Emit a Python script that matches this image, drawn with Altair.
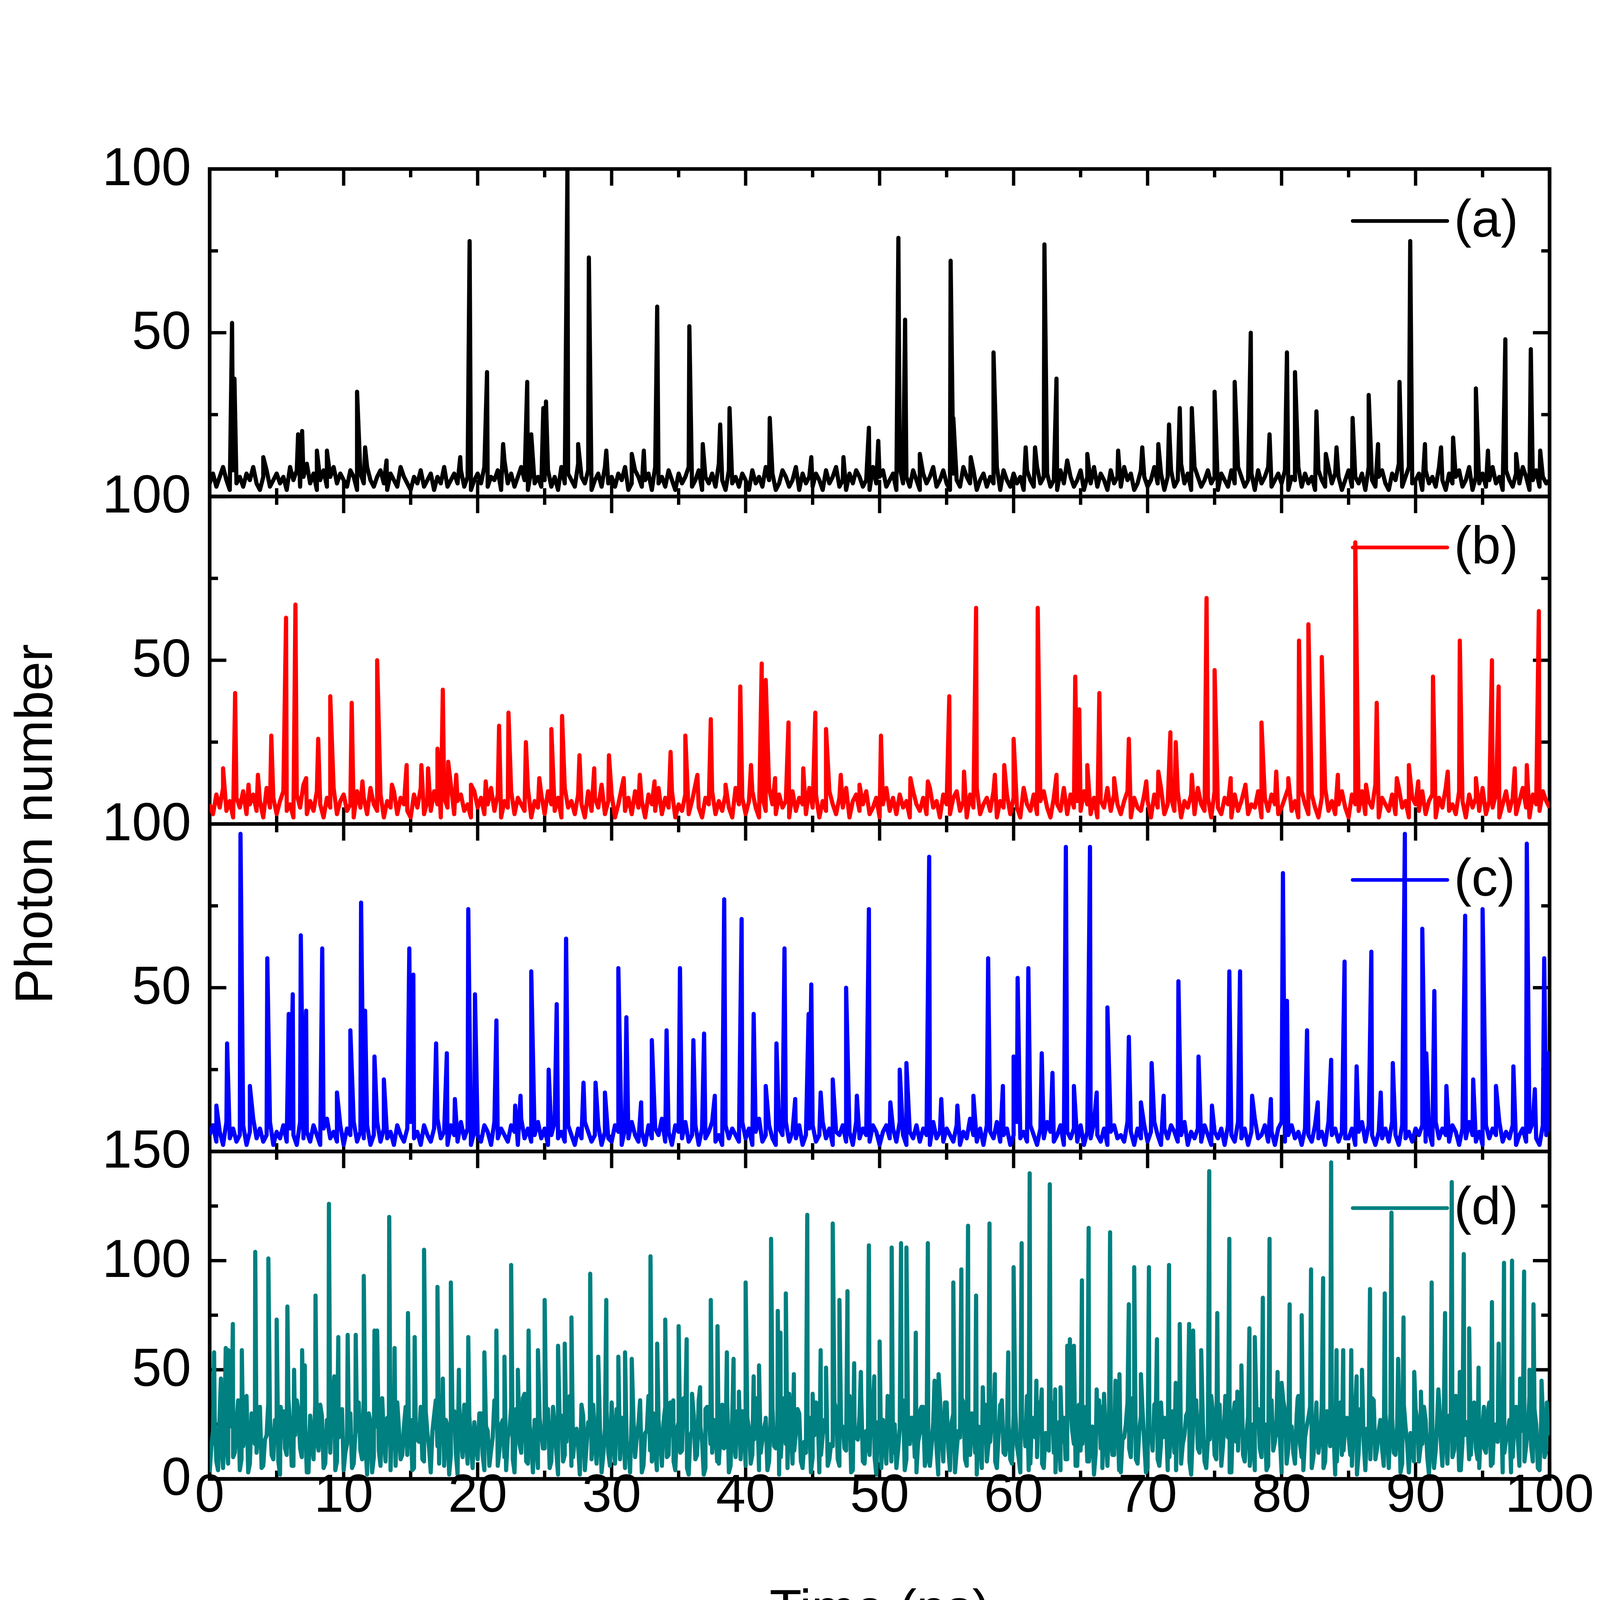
import altair as alt
import pandas as pd

FONT = "Liberation Sans"
DT = 0.25  # sampling step of the background traces (ns)

# ---------------- background noise (value every 0.25 ns, 0..100 ns) ----------------
BG_A = [
    4, 7, 3, 6, 9, 5, 2, 8, 4, 6, 3, 7, 5, 9, 4, 2, 6, 8, 3, 5,
    7, 4, 6, 2, 9, 5, 8, 3, 6, 10, 4, 7, 2, 5, 8, 3, 6, 9, 4, 7,
    5, 3, 8, 6, 2, 7, 4, 9, 5, 3, 6, 8, 4, 2, 7, 5, 3, 9, 6, 4,
    2, 6, 4, 8, 3, 5, 7, 2, 6, 4, 9, 3, 5, 7, 4, 8, 3, 6, 2, 5,
    7, 4, 9, 3, 6, 5, 8, 2, 11, 4, 7, 3, 6, 9, 5, 2, 8, 4, 6, 3,
    5, 8, 3, 6, 2, 9, 4, 7, 5, 3, 10, 6, 4, 8, 2, 5, 7, 3, 9, 4,
    6, 3, 7, 5, 9, 2, 4, 8, 6, 3, 5, 7, 2, 9, 4, 6, 3, 8, 5, 2,
    7, 4, 6, 9, 3, 5, 8, 2, 6, 4, 7, 3, 10, 5, 2, 8, 4, 6, 3, 7,
    5, 2, 8, 4, 6, 3, 9, 5, 7, 2, 4, 8, 6, 3, 5, 9, 2, 7, 4, 6,
    3, 7, 5, 2, 8, 4, 6, 9, 3, 5, 2, 7, 4, 8, 6, 3, 5, 2, 9, 4,
    6, 8, 3, 5, 7, 2, 9, 4, 6, 3, 8, 5, 2, 7, 4, 6, 9, 3, 5, 8,
    4, 2, 7, 5, 3, 9, 6, 4, 8, 2, 5, 7, 3, 6, 4, 9, 2, 8, 5, 3,
    7, 4, 6, 2, 8, 5, 3, 9, 4, 6, 7, 3, 5, 2, 8, 4, 11, 6, 3, 5,
    8, 2, 6, 4, 9, 3, 7, 5, 2, 8, 4, 6, 3, 9, 5, 7, 2, 4, 8, 6,
    3, 5, 9, 4, 7, 2, 6, 8, 3, 5, 10, 4, 7, 2, 9, 6, 3, 5, 8, 4,
    6, 2, 7, 5, 3, 8, 4, 9, 6, 3, 5, 7, 2, 8, 4, 6, 9, 3, 5, 7,
    4, 8, 2, 6, 5, 9, 3, 7, 4, 6, 2, 8, 5, 3, 9, 4, 7, 6, 2, 5,
    8, 3, 6, 4, 7, 2, 9, 5, 3, 6, 8, 4, 2, 7, 5, 10, 3, 6, 9, 4,
    5, 7, 2, 8, 4, 6, 3, 9, 5, 2, 7, 4, 6, 8, 3, 5, 9, 2, 6, 4,
    7, 3, 5, 9, 4, 6, 2, 8, 5, 3, 7, 4, 9, 6, 2, 5, 8, 3, 6, 4,
    5,
]
BG_B = [
    6, 3, 9, 5, 11, 4, 7, 2, 8, 5, 10, 3, 6, 9, 4, 7, 2, 11, 5, 8,
    3, 7, 10, 4, 6, 2, 9, 5, 12, 3, 7, 4, 10, 6, 2, 8, 5, 11, 3, 7,
    9, 4, 6, 2, 10, 5, 8, 3, 11, 6, 4, 9, 2, 7, 5, 10, 3, 8, 6, 4,
    2, 9, 5, 11, 3, 7, 4, 10, 6, 2, 8, 5, 12, 3, 7, 9, 4, 6, 2, 10,
    5, 8, 3, 6, 11, 4, 9, 2, 7, 5, 10, 3, 8, 6, 4, 11, 2, 7, 5, 9,
    3, 10, 6, 4, 8, 2, 11, 5, 7, 3, 9, 6, 2, 10, 4, 8, 5, 12, 3, 7,
    9, 2, 6, 11, 4, 8, 3, 10, 5, 7, 2, 9, 6, 4, 11, 3, 8, 5, 10, 2,
    6, 4, 9, 3, 7, 12, 5, 2, 8, 6, 10, 3, 7, 4, 9, 5, 2, 11, 6, 8,
    3, 7, 10, 5, 2, 8, 4, 11, 6, 3, 9, 5, 7, 2, 10, 4, 8, 6, 3, 11,
    5, 9, 2, 7, 4, 10, 6, 3, 8, 5, 11, 2, 7, 9, 4, 6, 10, 3, 5, 8,
    2, 6, 11, 4, 8, 3, 9, 5, 7, 2, 10, 6, 4, 8, 3, 11, 5, 7, 2, 9,
    6, 3, 8, 10, 4, 7, 2, 9, 5, 11, 3, 6, 8, 4, 10, 2, 7, 5, 9, 3,
    8, 5, 2, 11, 6, 4, 9, 3, 7, 10, 5, 2, 8, 6, 4, 11, 3, 9, 5, 7,
    4, 10, 6, 3, 8, 2, 7, 5, 11, 4, 9, 6, 3, 7, 10, 2, 8, 5, 4, 9,
    7, 2, 9, 5, 11, 3, 6, 8, 4, 10, 2, 7, 5, 9, 3, 11, 6, 4, 8, 2,
    10, 5, 3, 8, 6, 2, 9, 4, 7, 11, 3, 6, 5, 10, 2, 8, 4, 9, 6, 3,
    5, 8, 11, 4, 7, 2, 10, 6, 3, 9, 5, 2, 8, 11, 4, 7, 3, 6, 10, 5,
    2, 9, 6, 4, 10, 3, 7, 5, 12, 2, 8, 6, 4, 9, 3, 11, 5, 7, 2, 8,
    6, 4, 10, 3, 7, 9, 2, 8, 5, 11, 4, 6, 3, 10, 7, 2, 9, 5, 8, 4,
    11, 3, 7, 5, 9, 2, 6, 10, 4, 8, 3, 7, 11, 5, 2, 9, 6, 4, 10, 7,
    5,
]
BG_C = [
    5, 8, 3, 6, 2, 9, 4, 7, 3, 5, 8, 2, 6, 10, 4, 7, 3, 5, 9, 2,
    6, 4, 8, 3, 7, 5, 2, 9, 4, 6, 3, 8, 5, 2, 7, 10, 4, 6, 3, 8,
    2, 7, 5, 9, 3, 6, 4, 8, 2, 5, 9, 3, 7, 4, 6, 2, 8, 5, 3, 7,
    9, 4, 6, 2, 8, 5, 3, 7, 10, 4, 6, 2, 8, 5, 3, 9, 4, 7, 2, 6,
    5, 3, 8, 6, 2, 9, 4, 7, 5, 3, 8, 6, 2, 10, 4, 7, 3, 5, 9, 4,
    7, 2, 5, 9, 4, 6, 3, 8, 5, 2, 7, 4, 9, 6, 3, 5, 8, 2, 6, 4,
    3, 8, 6, 2, 7, 4, 9, 5, 3, 6, 2, 8, 4, 7, 5, 10, 3, 6, 2, 8,
    6, 4, 9, 3, 5, 8, 2, 7, 4, 6, 9, 3, 5, 2, 8, 4, 7, 5, 3, 9,
    4, 7, 2, 6, 10, 3, 5, 8, 4, 2, 7, 5, 9, 3, 6, 4, 8, 2, 5, 7,
    8, 3, 5, 9, 4, 7, 2, 6, 5, 8, 3, 6, 2, 9, 4, 7, 5, 3, 8, 6,
    2, 6, 8, 4, 7, 3, 9, 5, 2, 6, 4, 8, 3, 7, 5, 2, 9, 4, 6, 3,
    7, 5, 3, 8, 2, 6, 4, 10, 5, 3, 7, 2, 8, 6, 4, 9, 3, 5, 7, 2,
    5, 9, 4, 6, 3, 8, 5, 2, 7, 4, 9, 6, 3, 5, 8, 2, 6, 4, 7, 3,
    8, 2, 6, 4, 9, 5, 3, 7, 2, 6, 8, 4, 5, 3, 9, 6, 2, 7, 4, 8,
    3, 6, 9, 5, 2, 7, 4, 8, 6, 3, 5, 9, 2, 6, 4, 7, 3, 8, 5, 2,
    6, 4, 7, 2, 8, 5, 3, 9, 4, 7, 2, 6, 10, 4, 5, 8, 3, 6, 2, 7,
    9, 3, 5, 8, 4, 6, 2, 7, 5, 3, 8, 4, 6, 2, 9, 5, 7, 3, 6, 4,
    4, 7, 2, 6, 9, 3, 8, 5, 2, 6, 4, 7, 3, 9, 5, 2, 8, 4, 6, 3,
    7, 5, 8, 3, 6, 2, 9, 4, 7, 5, 3, 8, 6, 2, 7, 4, 9, 5, 3, 6,
    2, 8, 4, 7, 5, 9, 3, 6, 4, 8, 2, 5, 7, 3, 6, 9, 4, 2, 8, 5,
    6,
]
BG_D = [
    3, 22, 8, 30, 5, 18, 35, 10, 26, 4, 15, 38, 7, 24, 12, 33, 6, 20, 28, 9,
    17, 2, 31, 11, 25, 6, 36, 14, 21, 3, 29, 9, 19, 34, 5, 27, 12, 40, 8, 23,
    4, 16, 30, 7, 22, 13, 37, 2, 26, 10, 32, 6, 19, 28, 4, 14, 35, 9, 24, 11,
    27, 5, 18, 33, 8, 21, 3, 29, 15, 38, 6, 24, 11, 31, 2, 20, 34, 7, 16, 26,
    9, 30, 4, 22, 13, 36, 6, 25, 10, 19, 33, 3, 28, 12, 39, 7, 17, 27, 5, 21,
    14, 32, 8, 24, 2, 29, 11, 37, 6, 20, 15, 34, 4, 26, 9, 18, 31, 3, 23, 12,
    35, 7, 19, 28, 5, 16, 30, 10, 25, 3, 21, 38, 8, 14, 27, 6, 33, 11, 20, 4,
    26, 13, 32, 2, 22, 9, 36, 17, 5, 29, 12, 24, 7, 34, 15, 3, 28, 10, 19, 31,
    6, 23, 11, 37, 4, 18, 27, 8, 33, 14, 2, 25, 16, 39, 7, 21, 30, 5, 12, 28,
    10, 35, 3, 20, 26, 9, 15, 32, 6, 24, 13, 38, 4, 19, 29, 8, 22, 11, 34, 2,
    18, 27, 7, 31, 12, 5, 23, 36, 9, 16, 28, 3, 21, 33, 10, 6, 26, 14, 37, 8,
    24, 4, 30, 13, 19, 35, 6, 11, 27, 2, 22, 32, 8, 17, 25, 5, 34, 12, 20, 9,
    29, 15, 3, 26, 38, 7, 21, 10, 31, 5, 18, 36, 12, 24, 4, 28, 9, 33, 16, 6,
    13, 33, 8, 20, 2, 27, 14, 39, 6, 23, 11, 30, 3, 19, 35, 10, 25, 7, 29, 17,
    5, 22, 34, 9, 16, 28, 4, 24, 12, 37, 7, 20, 31, 2, 26, 14, 33, 8, 18, 38,
    11, 27, 6, 30, 19, 3, 35, 13, 22, 8, 29, 15, 4, 32, 10, 25, 6, 36, 17, 21,
    3, 31, 14, 24, 7, 38, 10, 19, 28, 5, 23, 12, 34, 8, 27, 16, 2, 30, 11, 25,
    20, 6, 33, 12, 26, 4, 18, 37, 9, 22, 14, 30, 5, 28, 11, 35, 7, 24, 3, 19,
    32, 8, 16, 27, 2, 23, 13, 36, 6, 21, 29, 10, 38, 4, 17, 26, 9, 31, 14, 5,
    24, 12, 35, 7, 20, 30, 3, 18, 27, 10, 33, 6, 22, 15, 38, 8, 25, 4, 29, 13,
    20,
]
# panel (d) extra background samples, at the half steps (0.125 + 0.25 i ns)
BG_D_HALF = [
    15, 28, 4, 19, 33, 7, 24, 12, 36, 9, 21, 3, 30, 16, 26, 5, 18, 35, 11, 27,
    8, 23, 14, 37, 6, 20, 31, 10, 25, 3, 17, 34, 13, 29, 7, 22, 38, 4, 19, 32,
    12, 27, 5, 21, 35, 9, 16, 30, 3, 24, 13, 37, 8, 19, 28, 6, 23, 11, 33, 15,
    4, 26, 17, 9, 31, 14, 22, 36, 7, 18, 27, 2, 25, 12, 34, 10, 20, 29, 5, 16,
    30, 11, 24, 6, 19, 35, 13, 27, 4, 22, 9, 32, 16, 37, 8, 25, 3, 18, 28, 14,
    21, 5, 33, 12, 26, 8, 17, 38, 10, 23, 2, 29, 15, 20, 34, 7, 24, 11, 31, 6,
    18, 32, 9, 25, 14, 3, 28, 19, 36, 6, 22, 13, 30, 4, 17, 26, 10, 35, 8, 23,
    12, 37, 5, 20, 29, 11, 24, 2, 33, 16, 27, 8, 21, 14, 36, 6, 19, 31, 9, 25,
    28, 7, 18, 34, 12, 23, 4, 30, 15, 21, 10, 37, 5, 26, 13, 32, 8, 17, 24, 3,
    20, 33, 11, 27, 6, 16, 35, 9, 22, 14, 29, 3, 24, 18, 38, 7, 13, 30, 10, 26,
    5, 19, 31, 8, 25, 13, 36, 4, 21, 28, 10, 17, 33, 6, 23, 15, 29, 2, 20, 35,
    14, 26, 3, 22, 37, 9, 18, 30, 12, 24, 5, 34, 16, 27, 8, 20, 36, 11, 25, 7,
    31, 10, 23, 15, 4, 28, 19, 35, 7, 21, 13, 32, 3, 26, 17, 9, 30, 22, 6, 34,
    16, 29, 8, 24, 12, 36, 5, 20, 27, 11, 33, 4, 18, 25, 14, 37, 9, 22, 31, 3,
    23, 13, 35, 6, 19, 27, 10, 31, 4, 24, 16, 29, 8, 21, 36, 12, 26, 5, 18, 30,
    9, 34, 15, 22, 3, 28, 17, 37, 11, 20, 6, 25, 32, 14, 23, 4, 30, 13, 27, 19,
    36, 7, 21, 12, 29, 16, 4, 24, 33, 10, 26, 18, 5, 31, 15, 22, 8, 35, 13, 28,
    11, 25, 2, 32, 17, 23, 9, 36, 14, 27, 6, 19, 30, 12, 24, 3, 34, 16, 21, 8,
    27, 15, 33, 10, 22, 5, 29, 18, 37, 7, 24, 13, 31, 4, 20, 26, 11, 35, 9, 23,
    14, 30, 6, 25, 17, 36, 12, 21, 3, 28, 19, 34, 8, 23, 15, 32, 5, 27, 10, 22,
]

# ---------------- spikes (time ns, photon number) ----------------
A_PEAKS = [
    (1.67, 53), (1.85, 36), (4.0, 12), (6.6, 19), (6.9, 20), (8.0, 14), (8.75, 14),
    (11.0, 32), (11.6, 15), (13.2, 11), (18.7, 12), (19.4, 78), (20.7, 38), (21.9, 16),
    (23.7, 35), (24.0, 19), (24.9, 27), (25.1, 29), (26.7, 100), (27.5, 16), (28.3, 73),
    (29.6, 14), (31.5, 13), (32.4, 14), (33.4, 58), (35.8, 52), (36.8, 16), (38.1, 22),
    (38.8, 27), (41.8, 24), (44.9, 12), (47.3, 12), (49.2, 21), (49.9, 17), (51.4, 79),
    (51.9, 54), (53.0, 13), (55.3, 72), (55.5, 24), (56.8, 12), (58.5, 44), (60.9, 15),
    (61.6, 15), (62.3, 77), (63.2, 36), (65.5, 13), (67.8, 14), (69.6, 15), (70.8, 16),
    (71.6, 22), (72.4, 27), (73.3, 27), (75.0, 32), (76.5, 35), (77.7, 50), (79.1, 19),
    (80.4, 44), (81.0, 38), (82.6, 26), (83.3, 13), (84.1, 15), (85.3, 24), (86.5, 31),
    (87.2, 16), (88.8, 35), (89.6, 78), (90.7, 16), (91.9, 15), (92.8, 18), (94.5, 33),
    (95.4, 14), (96.7, 48), (97.5, 13), (98.6, 45), (99.3, 14),
]
B_PEAKS = [
    (1.0, 17), (1.9, 40), (2.9, 12), (3.6, 15), (4.6, 27), (5.7, 63), (6.4, 67), (7.2, 14),
    (8.1, 26), (9.0, 39), (10.6, 37), (11.4, 13), (12.5, 50), (13.6, 12), (14.7, 18),
    (15.8, 18), (16.3, 17), (17.0, 23), (17.4, 41), (17.8, 19), (18.4, 15), (19.5, 12),
    (20.6, 13), (21.6, 30), (22.3, 34), (23.6, 25), (24.6, 14), (25.5, 29), (26.3, 33),
    (27.6, 21), (28.7, 17), (29.8, 21), (30.9, 14), (32.1, 15), (33.2, 13), (34.4, 22),
    (35.5, 27), (36.4, 15), (37.4, 32), (38.5, 12), (39.6, 42), (40.4, 18), (41.2, 49),
    (41.5, 44), (42.2, 14), (43.2, 31), (44.3, 17), (45.2, 34), (46.0, 29), (47.1, 15),
    (48.5, 12), (50.1, 27), (52.3, 14), (53.6, 13), (55.2, 39), (56.3, 16), (57.2, 66),
    (58.6, 15), (59.3, 18), (60.0, 26), (61.8, 66), (63.2, 15), (64.6, 45), (64.9, 35),
    (65.5, 18), (66.4, 40), (67.5, 14), (68.6, 26), (69.9, 13), (70.8, 16), (71.7, 28),
    (72.1, 25), (73.3, 15), (74.4, 69), (75.0, 47), (76.2, 14), (77.3, 12), (78.5, 31),
    (79.6, 16), (80.5, 14), (81.3, 56), (82.0, 61), (83.0, 51), (84.2, 15), (85.5, 86),
    (86.3, 12), (87.1, 37), (88.6, 14), (89.5, 18), (90.2, 13), (91.3, 45), (92.4, 16),
    (93.3, 56), (94.5, 14), (95.7, 50), (96.2, 42), (97.4, 17), (98.3, 18), (99.2, 65),
]
C_PEAKS = [
    (0.5, 14), (1.3, 33), (2.3, 97), (3.0, 20), (4.3, 59), (5.9, 42), (6.2, 48), (6.8, 66),
    (7.2, 43), (8.4, 62), (9.5, 18), (10.5, 37), (11.3, 76), (11.6, 43), (12.3, 29),
    (13.0, 22), (14.9, 62), (15.2, 54), (16.9, 33), (17.7, 30), (18.3, 16), (19.3, 74),
    (19.8, 48), (21.4, 40), (22.8, 14), (23.2, 17), (24.0, 55), (25.3, 25), (25.9, 45),
    (26.6, 65), (27.9, 21), (28.8, 21), (29.5, 18), (30.5, 56), (31.1, 41), (32.2, 15),
    (33.0, 34), (34.1, 37), (35.1, 56), (36.1, 34), (36.9, 36), (37.7, 17), (38.4, 77),
    (39.7, 71), (40.6, 42), (41.5, 20), (42.3, 33), (42.9, 62), (43.7, 16), (44.7, 42),
    (44.9, 51), (45.6, 18), (46.5, 22), (47.5, 50), (48.3, 17), (49.2, 74), (50.8, 15),
    (51.5, 25), (52.0, 27), (53.7, 90), (54.6, 16), (55.8, 14), (57.0, 17), (58.1, 59),
    (59.2, 20), (60.0, 29), (60.3, 53), (61.1, 56), (62.1, 30), (62.9, 24), (63.9, 93),
    (64.5, 20), (65.7, 93), (66.2, 18), (67.0, 44), (68.6, 35), (69.5, 15), (70.3, 27),
    (71.2, 17), (72.3, 52), (73.8, 29), (74.8, 14), (76.1, 55), (76.9, 55), (77.8, 17),
    (79.2, 16), (80.1, 85), (80.4, 46), (81.9, 37), (82.7, 15), (83.7, 28), (84.7, 58),
    (85.6, 26), (86.7, 61), (87.4, 18), (88.3, 27), (89.2, 97), (90.5, 68), (90.8, 30),
    (91.4, 49), (92.3, 20), (93.7, 72), (94.3, 22), (95.0, 74), (96.0, 20), (97.3, 26),
    (98.3, 94), (98.9, 19), (99.6, 59), (99.9, 30),
]
D_PEAKS = [
    (0.33, 58), (0.84, 46), (1.2, 60), (1.4, 59), (1.73, 71), (2.4, 59), (2.7, 32),
    (3.4, 104), (4.38, 101), (5.0, 73), (5.3, 33), (5.8, 79), (6.3, 50), (6.9, 59),
    (7.1, 52), (7.9, 84), (8.9, 126), (9.3, 47), (9.6, 65), (10.3, 66), (10.9, 66),
    (11.5, 93), (12.3, 68), (12.5, 68), (13.4, 120), (13.8, 60), (14.8, 76), (15.3, 65),
    (16.0, 105), (17.0, 88), (17.4, 46), (18.0, 90), (18.6, 50), (19.3, 65), (20.5, 58),
    (21.4, 68), (22.0, 56), (22.5, 98), (23.0, 50), (23.8, 68), (24.5, 59), (25.0, 82),
    (26.0, 61), (26.5, 62), (27.0, 74), (28.4, 94), (29.0, 56), (29.6, 82), (30.5, 56),
    (31.0, 58), (31.5, 55), (32.9, 102), (33.4, 62), (34.0, 73), (34.6, 36), (35.0, 70),
    (35.6, 64), (36.0, 39), (36.6, 42), (37.0, 32), (37.4, 82), (37.9, 70), (38.6, 58),
    (39.1, 55), (39.5, 40), (40.0, 90), (40.6, 47), (41.0, 52), (41.5, 28), (41.9, 110),
    (42.4, 77), (42.6, 67), (43.0, 85), (43.6, 48), (44.6, 121), (45.0, 39), (45.6, 59),
    (46.0, 51), (46.5, 117), (47.0, 82), (47.6, 86), (48.1, 53), (48.6, 49), (49.2, 107),
    (49.6, 47), (50.0, 63), (50.6, 38), (50.9, 106), (51.6, 108), (52.0, 106), (52.7, 67),
    (53.0, 31), (53.6, 108), (54.1, 45), (54.4, 48), (55.0, 35), (55.5, 90), (56.1, 96),
    (56.6, 116), (57.2, 84), (57.7, 42), (58.2, 117), (58.6, 48), (59.0, 32), (59.6, 58),
    (60.0, 97), (60.6, 108), (61.2, 140), (61.7, 45), (62.1, 41), (62.7, 135), (63.1, 41),
    (63.5, 42), (64.0, 61), (64.2, 64), (64.5, 61), (65.1, 91), (65.6, 115), (66.2, 41),
    (66.6, 33), (67.2, 113), (67.6, 45), (67.9, 48), (68.6, 80), (69.0, 97), (69.5, 48),
    (70.1, 97), (70.7, 64), (71.0, 35), (71.6, 98), (72.1, 44), (72.4, 71), (73.1, 71),
    (73.4, 68), (74.0, 59), (74.6, 141), (75.2, 76), (75.8, 38), (76.1, 110), (76.7, 40),
    (77.0, 52), (77.6, 69), (78.0, 65), (78.6, 83), (79.1, 110), (79.7, 49), (80.0, 44),
    (80.6, 80), (81.2, 37), (81.5, 75), (82.2, 96), (82.6, 35), (83.1, 92), (83.7, 145),
    (84.1, 59), (84.6, 59), (85.2, 59), (85.6, 47), (86.0, 50), (86.6, 87), (87.7, 85),
    (88.2, 122), (88.7, 55), (89.1, 74), (89.9, 49), (90.4, 40), (91.2, 90), (91.7, 41),
    (92.2, 76), (92.7, 136), (93.3, 49), (93.6, 103), (94.0, 69), (94.7, 51), (95.1, 33),
    (95.7, 81), (96.2, 62), (96.6, 99), (97.2, 100), (97.8, 46), (98.1, 95), (98.5, 50),
    (98.8, 80), (99.4, 45), (99.8, 35),
]

LABELS = ["(a)", "(b)", "(c)", "(d)"]
COLORS = ["#000000", "#FF0000", "#0000FF", "#008080"]
X_MAJOR = [0, 10, 20, 30, 40, 50, 60, 70, 80, 90, 100]
X_MINOR = [5, 15, 25, 35, 45, 55, 65, 75, 85, 95]
Y_MAX = [100, 100, 100, 150]                       # full scale of each panel
Y_LABELS = [[50, 100], [50, 100], [50, 100], [0, 50, 100, 150]]
Y_MAJOR = [[0, 50, 100], [0, 50, 100], [0, 50, 100], [0, 50, 100, 150]]
Y_MINOR = [[25, 75], [25, 75], [25, 75], [25, 75, 125]]
X_TITLE = "Time (ns)"
Y_TITLE = "Photon number"

# ---------------- layout / style ----------------
PH = 983                 # height of one panel (px)
W, H = 4022, 4 * PH      # plot area
LW = 12.5                # data line width
TW = 10                  # tick width
FW = 11                  # frame width
TMAJ, TMIN = 50, 25      # tick lengths (px)
FS_LAB = 160
FS_TIT = 158
LEG_X0, LEG_LEN, LEG_GAP = 3431, 284, 20
LEG_Y = [156, PH + 153, 2 * PH + 168, 3 * PH + 170]
XLAB_DY = -28            # x tick labels: top of text box relative to plot bottom
XTIT_DY = 318            # x title: top of text box relative to plot bottom
U = 100.0 / PH           # stacked-axis units per pixel


def stack(i, v):
    """Place value v of panel i (0 = top) on the stacked axis (each panel spans 100 units)."""
    return (3 - i) * 100 + v * 100.0 / Y_MAX[i]


def make_df(i, bg, peaks, bg_half=None):
    t = [i_ * DT for i_ in range(len(bg))] + [p[0] for p in peaks]
    v = list(bg) + [p[1] for p in peaks]
    if bg_half is not None:
        t += [DT / 2 + k * DT for k in range(len(bg_half))]
        v += list(bg_half)
    df = pd.DataFrame({"t": t, "v": v})
    df = df.sort_values("t", kind="mergesort").reset_index(drop=True)
    df["y"] = [stack(i, x) for x in df["v"]]
    return df


DATA = [
    make_df(0, BG_A, A_PEAKS),
    make_df(1, BG_B, B_PEAKS),
    make_df(2, BG_C, C_PEAKS),
    make_df(3, BG_D, D_PEAKS, BG_D_HALF),
]

# y-axis label positions on the stacked axis and their texts
lab_pos, lab_txt = [], []
for i in range(4):
    for v in Y_LABELS[i]:
        lab_pos.append(stack(i, v))
        lab_txt.append(str(v))
label_expr = "{" + ",".join(f"'{p:.4f}':'{s}'" for p, s in zip(lab_pos, lab_txt)) + "}[format(datum.value, '.4f')]"

xs = alt.Scale(domain=[0, 100], nice=False, zero=False)
ys = alt.Scale(domain=[0, 400], nice=False, zero=False)
yaxis = alt.Axis(values=lab_pos, labelExpr=label_expr, ticks=False, domain=False, grid=False,
                 title=None, labelFontSize=FS_LAB, labelFont=FONT, labelColor="black",
                 labelPadding=56, labelFlush=False, labelOverlap=False, labelLimit=0)
xenc = alt.X("t:Q", scale=xs, axis=None)
yenc = alt.Y("y:Q", scale=ys, axis=yaxis, title=None)

# tick tables
xt_rows = []
for i in range(4):
    top, bot = stack(i, Y_MAX[i]), stack(i, 0)
    for vals, L in ((X_MAJOR, TMAJ), (X_MINOR, TMIN)):
        for x in vals:
            xt_rows.append({"t": x, "y": top, "y2": top - L * U})
            xt_rows.append({"t": x, "y": bot, "y2": bot + L * U})
xt_df = pd.DataFrame(xt_rows)
ymaj_df = pd.DataFrame({"y": [stack(i, v) for i in range(4) for v in Y_MAJOR[i]]})
ymin_df = pd.DataFrame({"y": [stack(i, v) for i in range(4) for v in Y_MINOR[i]]})
sep_df = pd.DataFrame({"y": [stack(i, 0) for i in range(3)]})
xlab_df = pd.DataFrame({"t": X_MAJOR, "lab": [str(v) for v in X_MAJOR]})

layers = []
layers.append(alt.Chart(xt_df).mark_rule(color="black", strokeWidth=TW).encode(
    x=xenc, y=yenc, y2="y2:Q"))
for d, L in ((ymaj_df, TMAJ), (ymin_df, TMIN)):
    layers.append(alt.Chart(d).mark_rule(color="black", strokeWidth=TW).encode(
        y=yenc, x=alt.value(0), x2=alt.value(L)))
    layers.append(alt.Chart(d).mark_rule(color="black", strokeWidth=TW).encode(
        y=yenc, x=alt.value(W - L), x2=alt.value(W)))
# panel separators
layers.append(alt.Chart(sep_df).mark_rule(color="black", strokeWidth=FW).encode(
    y=yenc, x=alt.value(0), x2=alt.value(W)))
# data traces
for i in range(4):
    layers.append(alt.Chart(DATA[i]).mark_line(
        strokeWidth=LW, clip=True, strokeJoin="round", color=COLORS[i]).encode(x=xenc, y=yenc))
# legend entries
for i in range(4):
    leg = pd.DataFrame({"lab": [LABELS[i]]})
    layers.append(alt.Chart(leg).mark_rule(color=COLORS[i], strokeWidth=11, strokeCap="round").encode(
        x=alt.value(LEG_X0), x2=alt.value(LEG_X0 + LEG_LEN), y=alt.value(LEG_Y[i])))
    layers.append(alt.Chart(leg).mark_text(
        font=FONT, fontSize=FS_TIT, align="left", baseline="middle", color="black").encode(
        x=alt.value(LEG_X0 + LEG_LEN + LEG_GAP), y=alt.value(LEG_Y[i]), text="lab:N"))
# x tick labels (positioned through the x scale) and x title
layers.append(alt.Chart(xlab_df).mark_text(
    font=FONT, fontSize=FS_LAB, align="center", baseline="top", color="black").encode(
    x=xenc, y=alt.value(H + XLAB_DY), text="lab:N"))
xt_title = pd.DataFrame({"title": [X_TITLE]})
layers.append(alt.Chart(xt_title).mark_text(
    font=FONT, fontSize=FS_TIT, align="center", baseline="top", color="black").encode(
    x=alt.value(W / 2), y=alt.value(H + XTIT_DY), text="title:N"))
# y-axis title, centred on the stack
yt_title = pd.DataFrame({"title": [Y_TITLE]})
layers.append(alt.Chart(yt_title).mark_text(
    font=FONT, fontSize=FS_TIT, angle=270, align="center", baseline="middle",
    color="black").encode(x=alt.value(-520), y=alt.value(H / 2), text="title:N"))

# fixed placement: plot area at (628, 116) on the page (8 px page margin)
chart = alt.layer(*layers).properties(
    width=W, height=H,
    autosize=alt.AutoSizeParams(type="none"),
    padding={"left": 620, "top": 108, "right": 142, "bottom": 480},
    background="white",
).configure_view(stroke="black", strokeWidth=FW)

chart.save("out.html", embed_options={"renderer": "svg", "actions": False})
